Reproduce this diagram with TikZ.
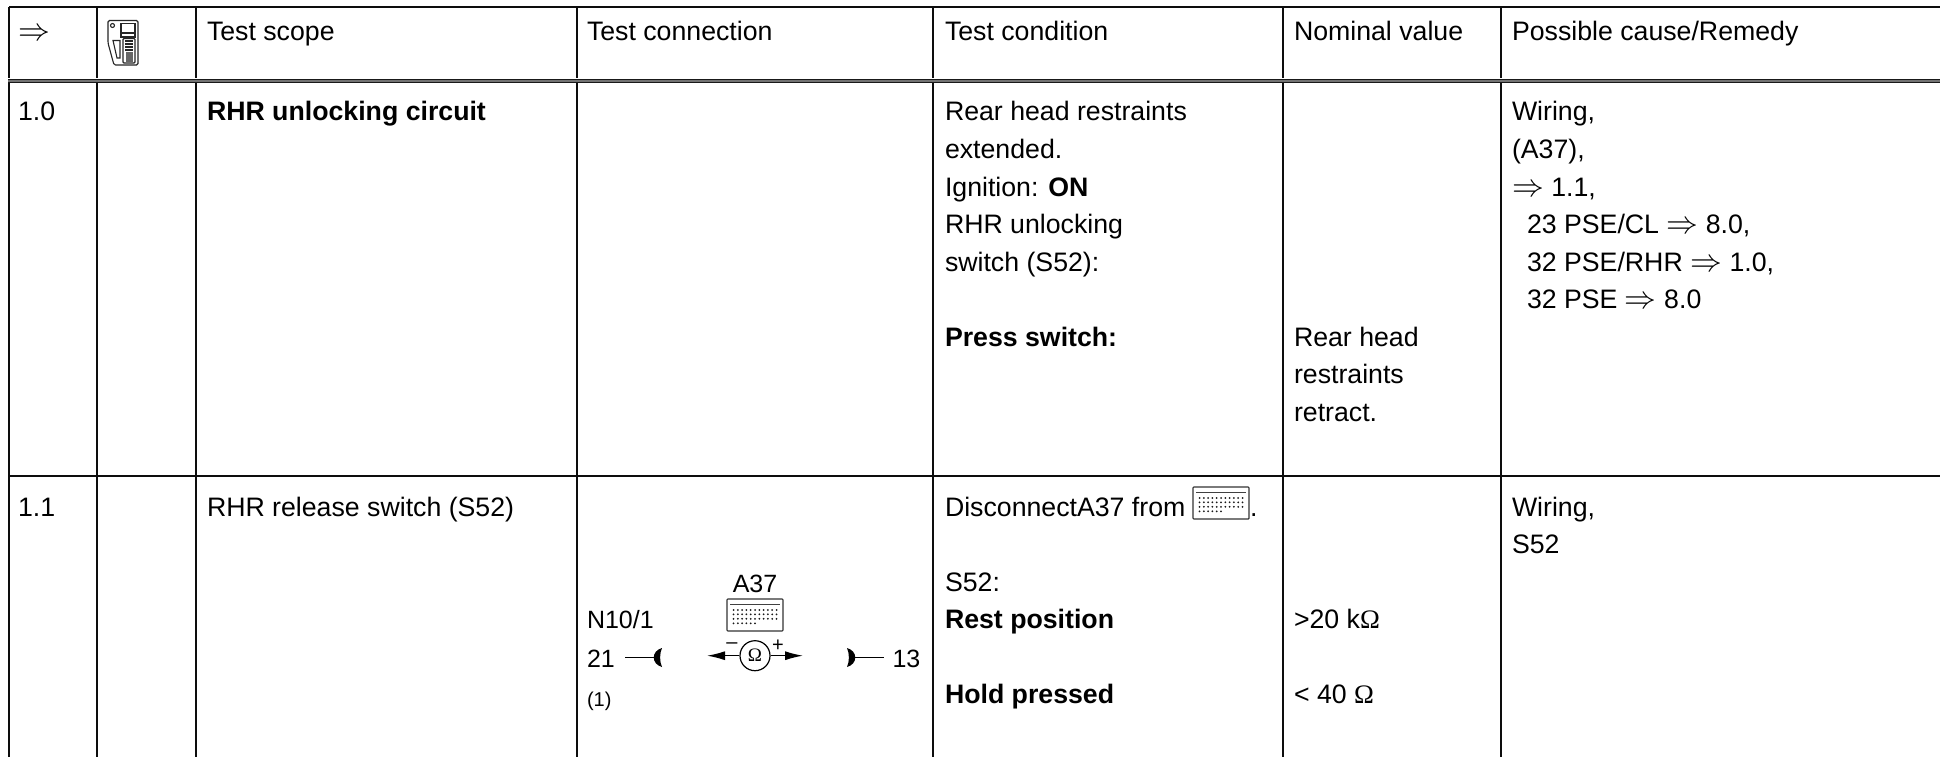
\documentclass[tikz,border=0pt]{standalone}
\usepackage{fontspec}
\usetikzlibrary{arrows.meta}
\setmainfont{Liberation Sans}
\newfontfamily\symbfont{Liberation Serif}
\newcommand\arr{{\fontsize{24}{24}\selectfont\scalebox{1.28}{$\Rightarrow$}}}
\tikzset{
 x=1pt,y=-1pt,
 txt/.style={anchor=base west,inner sep=0pt,outer sep=0pt,font=\fontsize{26.7}{26.7}\selectfont},
 boldtxt/.style={txt,font=\fontsize{26.7}{26.7}\selectfont\bfseries},
 conn/.style={txt,font=\fontsize{25}{25}\selectfont},
 small/.style={txt,font=\fontsize{20}{20}\selectfont},
 rule/.style={line width=2.3pt,color=black!95},
 thin icon/.style={line width=1.1pt,color=black!85},
 boxicon/.pic={
  \draw[line width=1.1pt,rounded corners=0.8pt,color=black!80] (-28,-16) rectangle (28,16);
  \draw[line width=0.8pt,color=black!75] (-25,-10.7) -- (25,-10.7);
  \foreach \r in {-5,-0.7,3.8}{\foreach \c in {0,...,10}{\fill[black!90] (-21.5+\c*4.3,\r) circle (1);}}
  \foreach \c in {0,...,5}{\fill[black!90] (-21.5+\c*4.3,8.3) circle (1);}
 },
}
\begin{document}
\begin{tikzpicture}
\useasboundingbox (0,0) rectangle (1940,757);
\fill[white] (0,0) rectangle (1940,757);
% frame
\draw[rule] (9,7) -- (1940,7);
\draw[rule] (9,476) -- (1940,476);
\foreach \x in {9,97,196,577,933,1283,1501}{\draw[rule] (\x,7) -- (\x,757);}
\fill[white] (8,78.5) rectangle (1940,83);
\draw[line width=4pt,color=black!55] (8,80.7) -- (1940,80.7);
\draw[line width=1pt,color=black!90] (8,79.2) -- (1940,79.2);
\draw[line width=1pt,color=black!90] (8,82.2) -- (1940,82.2);
% header
\node[txt] (h0) at (18,41) {\arr};
\node[txt] (h2) at (207,41) {Test scope};
\node[txt] (h3) at (587,41) {Test connection};
\node[txt] (h4) at (945,41) {Test condition};
\node[txt] (h5) at (1294,41) {Nominal value};
\node[txt] (h6) at (1512,41) {Possible cause/Remedy};
% tester icon
\draw[thin icon,rounded corners=1.5pt] (108,20.5) -- (138,20.5) -- (138,65) -- (114,65) -- (108,43) -- cycle;
\draw[thin icon] (112.5,25.5) circle (2);
\draw[thin icon] (121,23.5) rectangle (135,33);
\draw[thin icon] (121,33) rectangle (135,37);
\draw[thin icon] (113,40.5) -- (120,40.5) -- (120,58) -- (117,58) -- cycle;
\draw[thin icon,rounded corners=1pt] (123,38.5) rectangle (135,63);
\foreach \yy in {41,44,47,50}{\draw[thin icon] (125,\yy) -- (133,\yy);}
\fill[black!60] (126,52) rectangle (133,62);
% row 1.0
\node[txt] (a0) at (18,121) {1.0};
\node[boldtxt] (a2) at (207,121) {RHR unlocking circuit};
\node[txt] (a41) at (945,121) {Rear head restraints};
\node[txt] (a42) at (945,158.5) {extended.};
\node[txt] (a43) at (945,196) {Ignition: \textbf{ON}};
\node[txt] (a44) at (945,233.5) {RHR unlocking};
\node[txt] (a45) at (945,271) {switch (S52):};
\node[boldtxt] (a46) at (945,346) {Press switch:};
\node[txt] (a51) at (1294,346) {Rear head};
\node[txt] (a52) at (1294,383.5) {restraints};
\node[txt] (a53) at (1294,421) {retract.};
\node[txt] (a61) at (1512,121) {Wiring,};
\node[txt] (a62) at (1512,158.5) {(A37),};
\node[txt] (a63) at (1512,196) {\arr\ 1.1,};
\node[txt] (a64) at (1527,233.5) {23 PSE/CL \arr\ 8.0,};
\node[txt] (a65) at (1527,271) {32 PSE/RHR \arr\ 1.0,};
\node[txt] (a66) at (1527,308.5) {32 PSE \arr\ 8.0};
% row 1.1
\node[txt] (b0) at (18,516.5) {1.1};
\node[txt] (b2) at (207,516.5) {RHR release switch (S52)};
\node[txt] (b41) at (945,516.5) {DisconnectA37 from};
\pic at (1221,503) {boxicon};
\node[txt] (b41d) at (1250,516.5) {.};
\node[txt] (b42) at (945,591) {S52:};
\node[boldtxt] (b43) at (945,628.5) {Rest position};
\node[boldtxt] (b44) at (945,703.5) {Hold pressed};
\node[txt] (b51) at (1294,628.5) {>20 k{\symbfont Ω}};
\node[txt] (b52) at (1294,703.5) {< 40 {\symbfont Ω}};
\node[txt] (b61) at (1512,516.5) {Wiring,};
\node[txt] (b62) at (1512,553.5) {S52};
% test connection
\node[conn,anchor=base] (c1) at (755,592) {A37};
\pic at (755,615) {boxicon};
\node[conn] (c2) at (587,628) {N10/1};
\node[conn] (c3) at (587,667) {21};
\node[conn] (c4) at (892.5,667) {13};
\node[small] (c5) at (587,706) {(1)};
\node[circle,draw,line width=1.2pt,minimum size=30pt,inner sep=0pt,font=\fontsize{19}{19}\selectfont\symbfont] (om) at (755,655.7) {Ω};
\coordinate (lt) at (707,655.7);
\coordinate (rt) at (803,655.7);
\draw[line width=1.2pt,-{Latex[length=18pt,width=9pt]}] (om.west) -- (lt);
\draw[line width=1.2pt,-{Latex[length=18pt,width=9pt]}] (om.east) -- (rt);
\node[conn,font=\fontsize{20}{20}\selectfont,anchor=center] (minus) at (732,645.5) {–};
\node[conn,font=\fontsize{20}{20}\selectfont,anchor=center] (plus) at (778,646) {+};
\coordinate (l1) at (625,657.5); \coordinate (l2) at (655,657.5);
\coordinate (r1) at (854,657.5); \coordinate (r2) at (884,657.5);
\draw[line width=1.2pt] (l1) -- (l2);
\draw[line width=1.2pt] (r1) -- (r2);
\fill (662,648) .. controls (651,651) and (651,664) .. (662,667) .. controls (659.5,662) and (659.5,653) .. (662,648) -- cycle;
\fill (847,648) .. controls (858,651) and (858,664) .. (847,667) .. controls (849.5,662) and (849.5,653) .. (847,648) -- cycle;
\end{tikzpicture}
\end{document}
